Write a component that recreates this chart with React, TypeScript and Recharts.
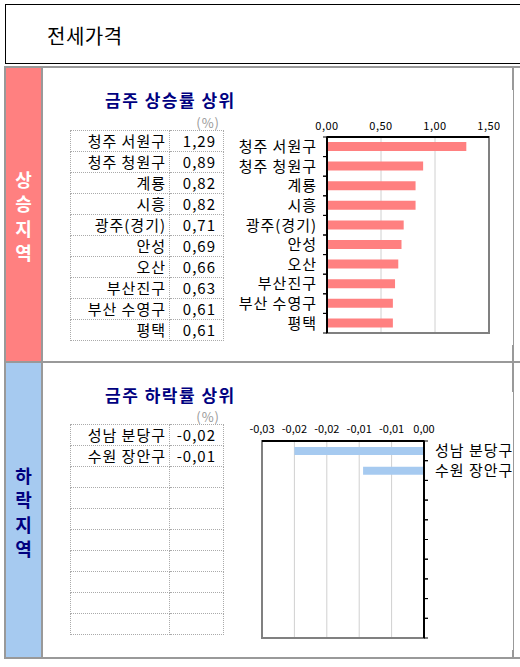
import React from 'react';
import { BarChart, Bar, XAxis, YAxis, CartesianGrid, ReferenceArea } from 'recharts';

// 금주 상승률 상위 (%)
const upNames = ['청주 서원구', '청주 청원구', '계룡', '시흥', '광주(경기)', '안성', '오산', '부산진구', '부산 수영구', '평택'];
const upValues = [1.29, 0.89, 0.82, 0.82, 0.71, 0.69, 0.66, 0.63, 0.61, 0.61];
const upTicks = [0, 0.5, 1.0, 1.5];

// 금주 하락률 상위 (%)
const downNames = ['성남 분당구', '수원 장안구'];
const downValues = [-0.02, -0.0094];
const downTicks = [-0.025, -0.02, -0.015, -0.01, -0.005, 0];

const ROWS = 10;
const FONT = '"Noto Sans CJK KR", "Noto Sans", sans-serif';
const PINK = '#FF8080';
const BLUE = '#A6CAF0';
const NAVY = '#000080';
const FRAME = '#999999';

const fmt = (v: number) => {
  const r = (Math.round(Math.abs(v) * 100 + 1e-9) / 100).toFixed(2);
  return ((v < 0 && r !== '0.00') ? '-' : '') + r.replace('.', ',');
};

const upData = upNames.map((name, i) => ({ name, value: upValues[i] }));
const downData = Array.from({ length: ROWS }, (_, i) => ({
  name: downNames[i] ?? '',
  value: downValues[i] ?? null,
}));

// category label + small tick mark on the band boundary
const CatTick = (props: any) => {
  const { x, y, payload, height, visibleTicksCount, side } = props;
  const step = (height || 196) / (visibleTicksCount || ROWS);
  const left = side === 'left';
  const axisX = left ? x + 11 : x - 11;
  const tx = left ? axisX - 4 : axisX + 4;
  return (
    <g>
      <line x1={axisX} x2={tx} y1={y - step / 2} y2={y - step / 2} stroke="#000" />
      <line x1={axisX} x2={tx} y1={y + step / 2} y2={y + step / 2} stroke="#000" />
      <text x={left ? x + 1 : x} y={y} dy="0.36em" textAnchor={left ? 'end' : 'start'} fontSize={15}
        style={{ letterSpacing: 1 }} fill="#000">
        {payload.value}
      </text>
    </g>
  );
};

const SideLabel = ({ text, top, color }: { text: string; top: number; color: string }) => (
  <div style={{ position: 'absolute', left: 6, top, width: 35, textAlign: 'center', color, fontWeight: 700, fontSize: 18, lineHeight: '24.5px' }}>
    {text.split('').map((c, i) => <div key={i}>{c}</div>)}
  </div>
);

const ValueTable = ({ names, values, top }: { names: string[]; values: number[]; top: number }) => (
  <table style={{ position: 'absolute', left: 70, top, width: 153, borderCollapse: 'collapse', tableLayout: 'fixed', fontSize: 15 }}>
    <colgroup>
      <col style={{ width: 99 }} />
      <col style={{ width: 54 }} />
    </colgroup>
    <tbody>
      {Array.from({ length: ROWS }, (_, i) => (
        <tr key={i} style={{ height: 21 }}>
          <td style={{ border: '1px dotted #aaa', padding: '0 3px 0 0', textAlign: 'right', lineHeight: '20px', whiteSpace: 'nowrap', letterSpacing: 1 }}>
            {names[i] ?? ''}
          </td>
          <td style={{ border: '1px dotted #aaa', padding: '0 7px 0 0', textAlign: 'right', lineHeight: '20px', letterSpacing: 1 }}>
            {values[i] !== undefined ? fmt(values[i]) : ''}
          </td>
        </tr>
      ))}
    </tbody>
  </table>
);

const Title = ({ text, top }: { text: string; top: number }) => (
  <div style={{ position: 'absolute', left: 105, top, fontSize: 17, fontWeight: 700, color: NAVY, letterSpacing: 1.5, lineHeight: '20px' }}>
    {text}
  </div>
);

const Unit = ({ top }: { top: number }) => (
  <div style={{ position: 'absolute', left: 170, width: 50, top, textAlign: 'right', fontSize: 13, color: '#999', lineHeight: '14px', letterSpacing: 1 }}>
    (%)
  </div>
);

export default function App() {
  return (
    <div style={{ position: 'absolute', left: 0, top: 0, width: 520, height: 667, overflow: 'hidden', background: '#fff', fontFamily: FONT }}>
      {/* header box */}
      <div style={{ position: 'absolute', left: 5, top: 4, width: 540, height: 58, border: '1px solid #000' }} />
      <div style={{ position: 'absolute', left: 47, top: 23, fontSize: 20, lineHeight: '26px', color: '#000', letterSpacing: 0.5 }}>전세가격</div>

      {/* frame */}
      <div style={{ position: 'absolute', left: 4, top: 66, width: 600, height: 589, borderTop: `2px solid ${FRAME}`, borderBottom: `2px solid ${FRAME}`, borderLeft: `2px solid ${FRAME}` }} />
      <div style={{ position: 'absolute', left: 6, top: 68, width: 35, height: 293, background: PINK }} />
      <div style={{ position: 'absolute', left: 6, top: 363, width: 35, height: 294, background: BLUE }} />
      <div style={{ position: 'absolute', left: 41, top: 68, width: 2, height: 589, background: FRAME }} />
      <div style={{ position: 'absolute', left: 6, top: 361, width: 520, height: 2, background: FRAME }} />
      <div style={{ position: 'absolute', left: 513, top: 68, width: 1, height: 589, background: FRAME }} />
      <div style={{ position: 'absolute', left: 512, top: 68, width: 2, height: 22, background: FRAME }} />
      <div style={{ position: 'absolute', left: 512, top: 345, width: 2, height: 47, background: FRAME }} />
      <div style={{ position: 'absolute', left: 512, top: 650, width: 2, height: 7, background: FRAME }} />

      <SideLabel text="상승지역" top={166.5} color="#fff" />
      <SideLabel text="하락지역" top={462.5} color={NAVY} />

      {/* 상승 */}
      <Title text="금주 상승률 상위" top={90} />
      <Unit top={116} />
      <ValueTable names={upNames} values={upValues} top={130} />
      <div style={{ position: 'absolute', left: 230, top: 110 }}>
        <BarChart width={270} height={230} data={upData} layout="vertical" margin={{ top: 7, right: 11, bottom: 7, left: 0 }}>
          <CartesianGrid horizontal={false} stroke="#d0d0d0" />
          <XAxis type="number" orientation="top" domain={[0, 1.5]} ticks={upTicks} height={20}
            tickFormatter={fmt} tickSize={0} tickMargin={7} axisLine={{ stroke: '#000', strokeWidth: 2 }}
            tick={{ fontSize: 11, fill: '#000', style: { letterSpacing: 0.5 } }} />
          <YAxis type="category" dataKey="name" width={97} tickSize={0} tickMargin={11}
            axisLine={{ stroke: '#000', strokeWidth: 2 }} tickLine={false}
            tick={<CatTick side="left" />} interval={0} />
          <ReferenceArea x1={0} x2={1.5} fill="none" stroke="#808080" strokeWidth={2} />
          <Bar dataKey="value" fill={PINK} barSize={9} isAnimationActive={false} />
        </BarChart>
      </div>

      {/* 하락 */}
      <Title text="금주 하락률 상위" top={385} />
      <Unit top={410} />
      <ValueTable names={downNames} values={downValues} top={424} />
      <div style={{ position: 'absolute', left: 230, top: 400 }}>
        <BarChart width={290} height={250} data={downData} layout="vertical" margin={{ top: 21, right: 0, bottom: 12, left: 32 }}>
          <CartesianGrid horizontal={false} stroke="#d0d0d0" />
          <XAxis type="number" orientation="top" domain={[-0.025, 0]} ticks={downTicks} height={20}
            tickFormatter={fmt} tickSize={0} tickMargin={8} axisLine={{ stroke: '#000', strokeWidth: 2 }}
            tick={{ fontSize: 11, fill: '#000' }} interval={0} />
          <YAxis type="category" dataKey="name" orientation="right" width={96} tickSize={0} tickMargin={11}
            axisLine={{ stroke: '#000', strokeWidth: 2 }} tickLine={false}
            tick={<CatTick side="right" />} interval={0} />
          <ReferenceArea x1={-0.025} x2={0} fill="none" stroke="#808080" strokeWidth={2} />
          <Bar dataKey="value" fill={BLUE} barSize={8} isAnimationActive={false} />
        </BarChart>
      </div>
    </div>
  );
}
